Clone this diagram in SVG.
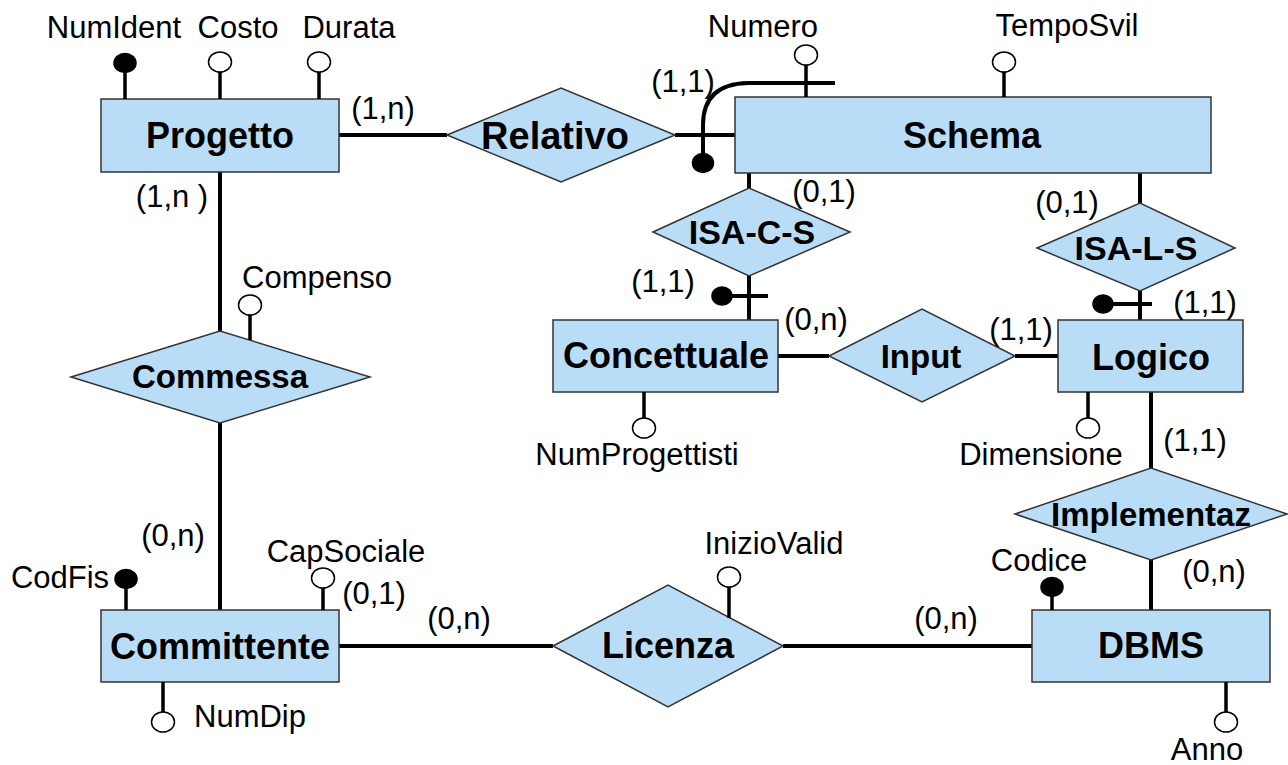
<svg xmlns="http://www.w3.org/2000/svg" width="1288" height="765" viewBox="0 0 1288 765">
<style>
.shape{fill:#BADDF7;stroke:#333;stroke-width:1.5}
.ent{font-family:"Liberation Sans",Arial,sans-serif;font-weight:bold;font-size:36px;text-anchor:middle;fill:#000}
.rel{font-family:"Liberation Sans",Arial,sans-serif;font-weight:bold;font-size:33px;text-anchor:middle;fill:#000}
.lbl{font-family:"Liberation Sans",Arial,sans-serif;font-size:31px;text-anchor:middle;fill:#000}
.con{stroke:#000;stroke-width:4;fill:none}
.stem{stroke:#000;stroke-width:3.5;fill:none}
.open{fill:#fff;stroke:#000;stroke-width:1.5}
.key{fill:#000;stroke:#000;stroke-width:1.5}
</style>
<rect width="1288" height="765" fill="#fff"/>
<g id="connectors">
<line class="con" x1="339" y1="135" x2="447" y2="135"/>
<line class="con" x1="675" y1="135" x2="735" y2="135"/>
<line class="con" x1="220" y1="172" x2="220" y2="331"/>
<line class="con" x1="220" y1="423" x2="220" y2="610"/>
<line class="con" x1="339" y1="646" x2="553" y2="646"/>
<line class="con" x1="783" y1="646" x2="1032" y2="646"/>
<line class="con" x1="749" y1="173" x2="749" y2="188"/>
<line class="con" x1="749" y1="276" x2="749" y2="320"/>
<line class="con" x1="1140" y1="173" x2="1140" y2="203"/>
<line class="con" x1="1140" y1="291" x2="1140" y2="320"/>
<line class="con" x1="778" y1="356" x2="829" y2="356"/>
<line class="con" x1="1015" y1="356" x2="1058" y2="356"/>
<line class="con" x1="1151" y1="392" x2="1151" y2="468"/>
<line class="con" x1="1151" y1="560" x2="1151" y2="610"/>
<path class="con" d="M703,160 L703,125 Q703,84 748,83 L835,83"/>
<ellipse class="key" cx="703" cy="163" rx="10.5" ry="9.5"/>
<line class="con" x1="722" y1="296" x2="768" y2="296"/>
<ellipse class="key" cx="722" cy="296" rx="10" ry="9"/>
<line class="con" x1="1103" y1="304" x2="1152" y2="304"/>
<ellipse class="key" cx="1103" cy="304" rx="10" ry="9"/>
</g>
<g id="Progetto">
<rect class="shape" x="101" y="99" width="238" height="73"/>
<text class="ent" x="220" y="148">Progetto</text>
</g>
<g id="Progetto-attrs">
<line class="stem" x1="125" y1="70" x2="125" y2="99"/>
<ellipse class="key" cx="125" cy="63" rx="11" ry="9.5"/>
<line class="stem" x1="220" y1="72" x2="220" y2="99"/>
<ellipse class="open" cx="220" cy="62" rx="11.5" ry="10"/>
<line class="stem" x1="319" y1="72" x2="319" y2="99"/>
<ellipse class="open" cx="319" cy="62" rx="11.5" ry="10"/>
<text class="lbl" x="114" y="38">NumIdent</text>
<text class="lbl" x="238" y="38">Costo</text>
<text class="lbl" x="349" y="38">Durata</text>
</g>
<g id="Relativo">
<polygon class="shape" points="447,135 561,88 675,135 561,182"/>
<text class="ent" x="555" y="149" style="font-size:38px">Relativo</text>
</g>
<g id="Schema">
<rect class="shape" x="735" y="97" width="476" height="76"/>
<text class="ent" x="972" y="148">Schema</text>
</g>
<g id="Schema-attrs">
<line class="stem" x1="806" y1="65" x2="806" y2="97"/>
<ellipse class="open" cx="806" cy="55" rx="11.5" ry="10"/>
<text class="lbl" x="763" y="37">Numero</text>
<line class="stem" x1="1004" y1="71" x2="1004" y2="97"/>
<ellipse class="open" cx="1004" cy="62" rx="11.5" ry="10"/>
<text class="lbl" x="1067" y="36">TempoSvil</text>
</g>
<g id="ISA-C-S">
<polygon class="shape" points="653,232 749,188 850,232 749,276"/>
<text class="rel" x="752" y="244" style="font-size:34px">ISA-C-S</text>
</g>
<g id="ISA-L-S">
<polygon class="shape" points="1037,248 1140,203 1235,248 1140,291"/>
<text class="rel" x="1136" y="260" style="font-size:34px">ISA-L-S</text>
</g>
<g id="Concettuale">
<rect class="shape" x="553" y="320" width="225" height="72"/>
<text class="ent" x="666" y="368">Concettuale</text>
<line class="stem" x1="644" y1="392" x2="644" y2="419"/>
<ellipse class="open" cx="644" cy="428" rx="11.5" ry="10"/>
<text class="lbl" x="637" y="465">NumProgettisti</text>
</g>
<g id="Input">
<polygon class="shape" points="829,356 922,309 1015,356 922,402"/>
<text class="rel" x="921" y="368">Input</text>
</g>
<g id="Logico">
<rect class="shape" x="1058" y="320" width="185" height="72"/>
<text class="ent" x="1151" y="370">Logico</text>
<line class="stem" x1="1088" y1="392" x2="1088" y2="419"/>
<ellipse class="open" cx="1088" cy="428" rx="11.5" ry="10"/>
<text class="lbl" x="1041" y="465">Dimensione</text>
</g>
<g id="Implementaz">
<polygon class="shape" points="1015,514 1151,468 1287,514 1151,560"/>
<text class="rel" x="1151" y="526">Implementaz</text>
</g>
<g id="Commessa">
<polygon class="shape" points="71,377 220,331 370,377 220,423"/>
<text class="rel" x="220" y="388">Commessa</text>
<line class="stem" x1="250" y1="314" x2="250" y2="340"/>
<ellipse class="open" cx="250" cy="305" rx="11.5" ry="10"/>
<text class="lbl" x="317" y="288">Compenso</text>
</g>
<g id="Committente">
<rect class="shape" x="101" y="610" width="238" height="72"/>
<text class="ent" x="220" y="659">Committente</text>
<line class="stem" x1="126" y1="586" x2="126" y2="610"/>
<ellipse class="key" cx="126" cy="579" rx="11" ry="9.5"/>
<text class="lbl" x="60" y="588">CodFis</text>
<line class="stem" x1="323" y1="587" x2="323" y2="610"/>
<ellipse class="open" cx="323" cy="578" rx="11.5" ry="10"/>
<text class="lbl" x="346" y="562">CapSociale</text>
<line class="stem" x1="163" y1="682" x2="163" y2="712"/>
<ellipse class="open" cx="163" cy="722" rx="11.5" ry="10"/>
<text class="lbl" x="250" y="727">NumDip</text>
</g>
<g id="Licenza">
<polygon class="shape" points="553,646 668,585 783,646 668,707"/>
<text class="ent" x="668" y="658">Licenza</text>
<line class="stem" x1="729" y1="586" x2="729" y2="618"/>
<ellipse class="open" cx="729" cy="577" rx="11.5" ry="10"/>
<text class="lbl" x="774" y="554">InizioValid</text>
</g>
<g id="DBMS">
<rect class="shape" x="1032" y="610" width="238" height="72"/>
<text class="ent" x="1151" y="658">DBMS</text>
<line class="stem" x1="1052" y1="594" x2="1052" y2="610"/>
<ellipse class="key" cx="1052" cy="587" rx="11" ry="9.5"/>
<text class="lbl" x="1039" y="571">Codice</text>
<line class="stem" x1="1226" y1="682" x2="1226" y2="713"/>
<ellipse class="open" cx="1226" cy="722" rx="11.5" ry="10"/>
<text class="lbl" x="1207" y="760">Anno</text>
</g>
<g id="cardinalities">
<text class="lbl" x="383" y="119">(1,n)</text>
<text class="lbl" x="683" y="92">(1,1)</text>
<text class="lbl" x="172" y="207">(1,n )</text>
<text class="lbl" x="824" y="202">(0,1)</text>
<text class="lbl" x="1067" y="213">(0,1)</text>
<text class="lbl" x="663" y="292">(1,1)</text>
<text class="lbl" x="1205" y="313">(1,1)</text>
<text class="lbl" x="816" y="330">(0,n)</text>
<text class="lbl" x="1021" y="340">(1,1)</text>
<text class="lbl" x="1195" y="451">(1,1)</text>
<text class="lbl" x="1214" y="582">(0,n)</text>
<text class="lbl" x="173" y="546">(0,n)</text>
<text class="lbl" x="374" y="604">(0,1)</text>
<text class="lbl" x="459" y="629">(0,n)</text>
<text class="lbl" x="946" y="629">(0,n)</text>
</g>
</svg>
